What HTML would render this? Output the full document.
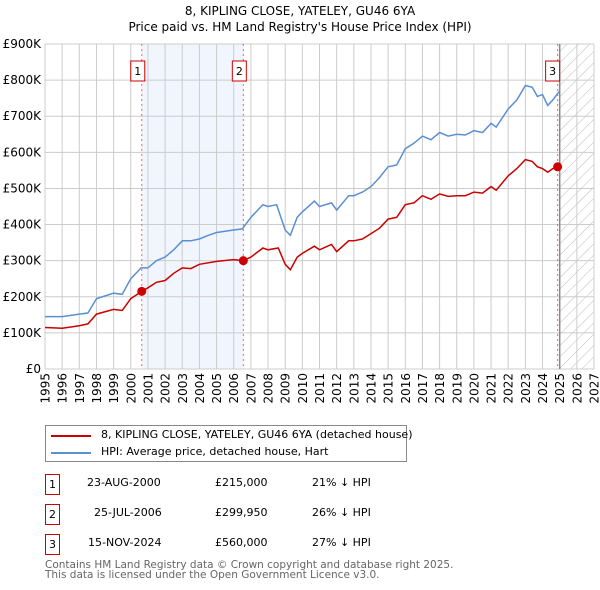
<!DOCTYPE html>
<html><head><meta charset="utf-8"><style>
body{margin:0;background:#fff;font-family:"DejaVu Sans",sans-serif;}
#wrap{position:relative;width:600px;height:590px;overflow:hidden;}
.t{position:absolute;font-size:11px;color:#000;white-space:nowrap;}
.box{position:absolute;border:1px solid #c00;width:13px;height:19px;text-align:center;line-height:19px;font-size:11px;background:#fff;}
</style></head><body><div id="wrap">
<div class="t" style="left:0;width:600px;text-align:center;top:4px;font-size:12px">8, KIPLING CLOSE, YATELEY, GU46 6YA</div>
<div class="t" style="left:0;width:600px;text-align:center;top:20px;font-size:12px">Price paid vs. HM Land Registry's House Price Index (HPI)</div>
<svg id="chart" width="600" height="420" style="position:absolute;left:0;top:0"></svg>
<div style="position:absolute;left:45px;top:425px;width:362px;height:37px;border:1px solid #888;box-sizing:border-box">
<div style="position:absolute;left:5px;top:9px;width:40px;height:2px;background:#c00"></div>
<div class="t" style="left:55px;top:2px">8, KIPLING CLOSE, YATELEY, GU46 6YA (detached house)</div>
<div style="position:absolute;left:5px;top:26px;width:40px;height:2px;background:#5b8fd4"></div>
<div class="t" style="left:55px;top:19px">HPI: Average price, detached house, Hart</div>
</div>
<div class="box" style="left:45px;top:474px">1</div>
<div class="t" style="left:87px;top:476px">23-AUG-2000</div>
<div class="t" style="left:215px;top:476px">£215,000</div>
<div class="t" style="left:312px;top:476px">21% ↓ HPI</div>
<div class="box" style="left:45px;top:504px">2</div>
<div class="t" style="left:94px;top:506px">25-JUL-2006</div>
<div class="t" style="left:215px;top:506px">£299,950</div>
<div class="t" style="left:312px;top:506px">26% ↓ HPI</div>
<div class="box" style="left:45px;top:534px">3</div>
<div class="t" style="left:88px;top:536px">15-NOV-2024</div>
<div class="t" style="left:215px;top:536px">£560,000</div>
<div class="t" style="left:312px;top:536px">27% ↓ HPI</div>
<div class="t" style="left:45px;top:559px;color:#666;font-size:10.5px">Contains HM Land Registry data © Crown copyright and database right 2025.</div>
<div class="t" style="left:45px;top:569px;color:#666;font-size:10.5px">This data is licensed under the Open Government Licence v3.0.</div>
</div>
<script>
const yTicks=[0,100,200,300,400,500,600,700,800,900];
const yTickLabels=["£0","£100K","£200K","£300K","£400K","£500K","£600K","£700K","£800K","£900K"];
const xYears=[1995,1996,1997,1998,1999,2000,2001,2002,2003,2004,2005,2006,2007,2008,2009,2010,2011,2012,2013,2014,2015,2016,2017,2018,2019,2020,2021,2022,2023,2024,2025,2026,2027];
const hpiT=[1995,1996,1997,1997.5,1998,1999,1999.5,2000,2000.6,2001,2001.5,2002,2002.5,2003,2003.5,2004,2004.5,2005,2006,2006.5,2007,2007.7,2008,2008.5,2009,2009.3,2009.7,2010,2010.7,2011,2011.7,2012,2012.7,2013,2013.5,2014,2014.5,2015,2015.5,2016,2016.5,2017,2017.5,2018,2018.5,2019,2019.5,2020,2020.5,2021,2021.3,2022,2022.5,2023,2023.4,2023.7,2024,2024.3,2024.6,2025];
const hpiV=[145,145,152,155,195,210,207,250,280,280,300,310,330,355,355,360,370,378,385,388,420,455,450,455,385,370,420,435,465,450,460,440,480,480,490,505,530,560,565,610,625,645,635,655,645,650,648,660,655,680,670,720,745,785,780,755,760,730,745,770];
const priceT=[1995,1996,1997,1997.5,1998,1999,1999.5,2000,2000.64,2001,2001.5,2002,2002.5,2003,2003.5,2004,2005,2006,2006.56,2007,2007.7,2008,2008.6,2009,2009.3,2009.7,2010,2010.7,2011,2011.7,2012,2012.7,2013,2013.5,2014,2014.5,2015,2015.5,2016,2016.5,2017,2017.5,2018,2018.5,2019,2019.5,2020,2020.5,2021,2021.3,2022,2022.5,2023,2023.4,2023.7,2024,2024.3,2024.6,2024.88];
const priceV=[115,113,120,125,152,165,162,195,215,225,240,245,265,280,278,290,298,303,300,310,335,330,335,290,275,310,320,340,330,345,325,355,355,360,375,390,415,420,455,460,480,470,485,478,480,480,490,487,505,495,535,555,580,575,560,555,545,555,560];
const saleT=[2000.64,2006.56,2024.88];
const saleV=[215,299.95,560];
const saleLabels=["1","2","3"];
const X0=45,X1=594,Y0=369,Y1=44;
const xs=t=>X0+(t-1995)/(2027-1995)*(X1-X0);
const ys=v=>Y0-v/900*(Y0-Y1);
const svg=document.getElementById('chart');const NS='http://www.w3.org/2000/svg';
function mk(tag,attrs,name){const e=document.createElementNS(NS,tag);for(const k in attrs)e.setAttribute(k,attrs[k]);


svg.appendChild(e);return e;}
mk('rect',{x:xs(saleT[0]),y:Y1,width:xs(saleT[1])-xs(saleT[0]),height:Y0-Y1,fill:'#eef3fc',opacity:0.8},'sale-period-shade');
const defs=mk('defs',{},'defs');
defs.innerHTML='<pattern id="h" width="8" height="8" patternUnits="userSpaceOnUse" patternTransform="rotate(45)"><line x1="0" y1="0" x2="0" y2="8" stroke="#bbb" stroke-width="1"/></pattern>';
mk('rect',{x:xs(2025),y:Y1,width:X1-xs(2025),height:Y0-Y1,fill:'url(#h)'},'forecast-hatch');
xYears.forEach(y=>mk('line',{x1:xs(y),x2:xs(y),y1:Y1,y2:Y0,stroke:'#ccc'},'x-gridline'));
yTicks.forEach((v,i)=>{mk('line',{x1:X0,x2:X1,y1:ys(v),y2:ys(v),stroke:'#ccc'},'y-gridline');
const t=mk('text',{x:X0-4,y:ys(v)+4,'text-anchor':'end','font-size':'12','font-family':'DejaVu Sans, sans-serif'},'y-tick-label');t.textContent=yTickLabels[i];});
xYears.forEach(y=>{const t=mk('text',{x:0,y:0,'text-anchor':'end','font-size':'12','font-family':'DejaVu Sans, sans-serif',transform:'translate('+(xs(y)+4.5)+',373) rotate(-90)'},'x-tick-label');t.textContent=y;});
mk('line',{x1:xs(2025),x2:xs(2025),y1:Y1,y2:Y0,stroke:'#888','stroke-width':1.5},'forecast-line');
saleT.forEach(t=>mk('line',{x1:xs(t),x2:xs(t),y1:Y1,y2:Y0,stroke:'#e66','stroke-dasharray':'2,3'},'sale-vline'));
const path=(T,V)=>T.map((t,i)=>(i?'L':'M')+xs(t).toFixed(1)+','+ys(V[i]).toFixed(1)).join('');
mk('path',{d:path(hpiT,hpiV),fill:'none',stroke:'#5b8fd4','stroke-width':1.5},'hpi-line');
mk('path',{d:path(priceT,priceV),fill:'none',stroke:'#c00','stroke-width':1.5},'price-line');
saleT.forEach((t,i)=>{mk('circle',{cx:xs(t),cy:ys(saleV[i]),r:4.5,fill:'#c00'},'sale-point');
const bx=xs(t)-4-(i==2?1:0);
mk('rect',{x:bx-7,y:61,width:14,height:20,fill:'#fff',stroke:'#c00'},'sale-label-box');
const tx=mk('text',{x:bx,y:75,'text-anchor':'middle','font-size':'11','font-family':'DejaVu Sans, sans-serif'},'sale-label');tx.textContent=saleLabels[i];});
</script></body></html>
